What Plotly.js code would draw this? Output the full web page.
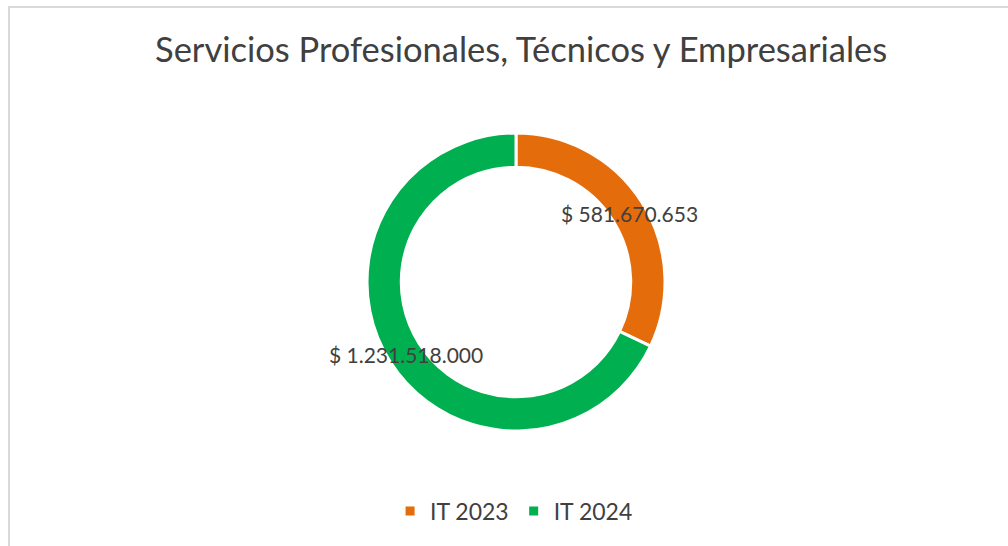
<!DOCTYPE html>
<html>
<head>
<meta charset="utf-8">
<script src="https://cdn.plot.ly/plotly-3.0.1.min.js"></script>
<style>
  html, body { margin: 0; padding: 0; background: #ffffff; overflow: hidden; }
  #frame { position: absolute; left: 8px; top: 6px; width: 1010px; height: 560px;
           border-left: 2px solid #d9d9d9; border-top: 2px solid #d9d9d9; }
  #chart { position: absolute; left: 0; top: 0; width: 1008px; height: 546px; }
</style>
</head>
<body>
<div id="frame"></div>
<div id="chart"></div>
<script>
var categories = ["IT 2023", "IT 2024"];
var values = [581670653, 1231518000];
var colors = ["#E46C0A", "#00B050"];
var chartTitle = "Servicios Profesionales, Técnicos y Empresariales";

function fmt(n) {
  var s = String(Math.round(n));
  var out = "";
  while (s.length > 3) { out = "." + s.slice(-3) + out; s = s.slice(0, -3); }
  return "$ " + s + out;
}

var W = 1008, H = 546;
var cx = 516, cy = 282, R = 149, hole = 0.77;
var domX = [(cx - R) / W, (cx + R) / W];
var domY = [1 - (cy + R) / H, 1 - (cy - R) / H];

// label positions: middle of the ring at the mid-angle of each slice
var total = values.reduce(function (a, b) { return a + b; }, 0);
var rMid = R * (1 + hole) / 2;
var annotations = [];
var cum = 0;
for (var i = 0; i < values.length; i++) {
  var mid = (cum + values[i] / 2) / total * 2 * Math.PI;
  cum += values[i];
  var px = cx + rMid * Math.sin(mid) + 2;
  var py = cy - rMid * Math.cos(mid) + 2;
  annotations.push({
    xref: "paper", yref: "paper", x: px / W, y: 1 - py / H,
    xanchor: "center", yanchor: "middle", showarrow: false,
    text: fmt(values[i]),
    font: { family: "Lato, 'Open Sans', sans-serif", size: 21, color: "#404040" }
  });
}

var data = [{
  type: "pie",
  labels: categories,
  values: values,
  hole: hole,
  sort: false,
  direction: "clockwise",
  rotation: 0,
  marker: { colors: colors, line: { color: "#ffffff", width: 3 } },
  textinfo: "none",
  hoverinfo: "label+value",
  domain: { x: domX, y: domY }
}];

var layout = {
  width: W, height: H,
  margin: { l: 0, r: 0, t: 0, b: 0 },
  paper_bgcolor: "rgba(0,0,0,0)",
  plot_bgcolor: "rgba(0,0,0,0)",
  title: {
    text: chartTitle,
    x: 0.517, xanchor: "center",
    y: 1 - 50 / H, yanchor: "middle",
    font: { family: "Lato, 'Open Sans', sans-serif", size: 34.5, color: "#404040" }
  },
  showlegend: true,
  legend: {
    orientation: "h",
    x: 0.510, xanchor: "center",
    y: 1 - 511 / H, yanchor: "middle",
    font: { family: "Lato, 'Open Sans', sans-serif", size: 23, color: "#404040" },
    itemwidth: 30
  },
  annotations: annotations
};

Plotly.newPlot("chart", data, layout, { displayModeBar: false, staticPlot: true });
</script>
</body>
</html>
